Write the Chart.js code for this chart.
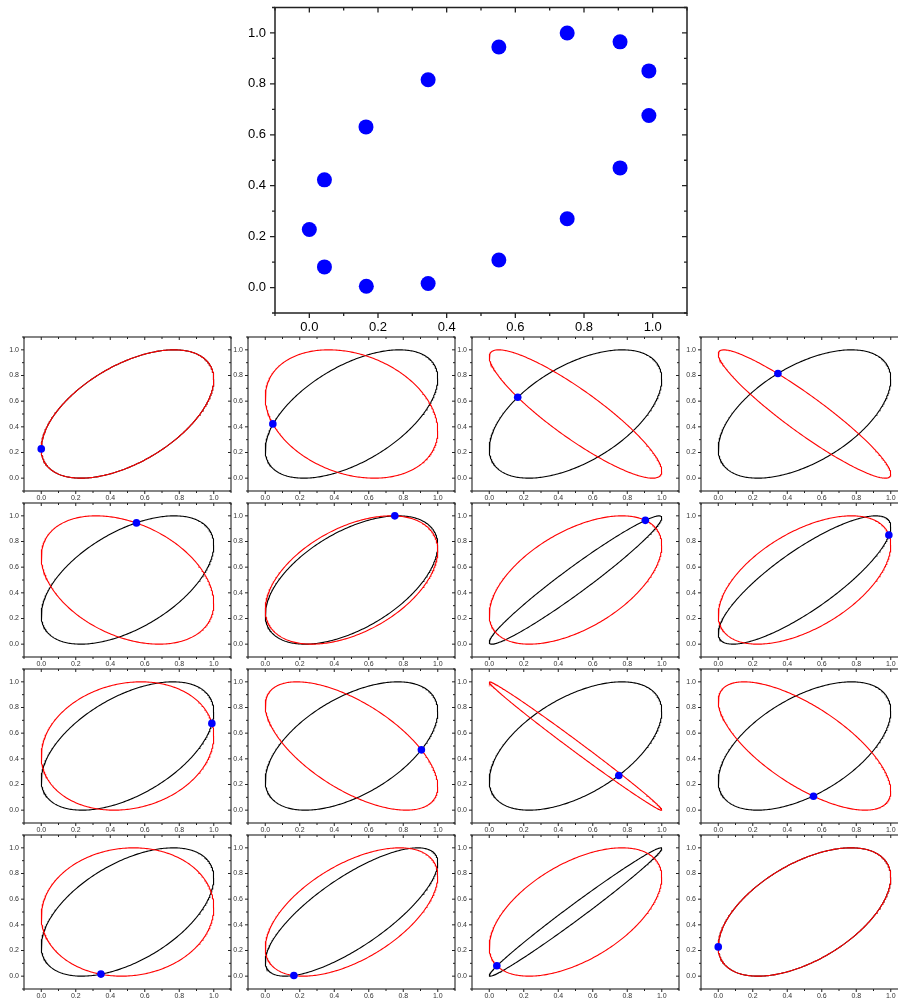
<!DOCTYPE html>
<html lang="en">
<head>
<meta charset="utf-8" />
<title>Phase ellipses</title>
<script src="https://cdn.jsdelivr.net/npm/chart.js@4.4.1/dist/chart.umd.min.js"></script>
<style>
  html, body { margin: 0; padding: 0; background: #fff; width: 898px; height: 998px; overflow: hidden; }
  .box { position: absolute; }
</style>
</head>
<body>
<div id="wrap"></div>
<script>
  // sample points, in sampling order
  const ptX = [0.000, 0.044, 0.165, 0.346, 0.552, 0.751, 0.905, 0.989, 0.989, 0.905, 0.751, 0.552, 0.346, 0.166, 0.044];
  const ptY = [0.228, 0.423, 0.631, 0.816, 0.945, 1.000, 0.965, 0.851, 0.676, 0.470, 0.270, 0.108, 0.016, 0.005, 0.081];

  // highlighted (blue) point in each small panel, row by row
  const panelPoint = [0, 1, 2, 3, 4, 5, 6, 7, 8, 9, 10, 11, 12, 13, 14, 0];

  // phase between x and y of the black and red ellipse in each panel (degrees)
  const blackPhase = [57.3, 56.3, 57.1, 57.1, 57.1, 57.3, 14.3, 34.1, 58.1, 57.5, 57.4, 57.0, 57.9, 39.8, 8.5, 57.3];
  const redPhase   = [57.3, 105.3, 153.0, 159.1, 111.4, 62.6, 57.5, 57.0, 81.0, 129.3, 174.3, 134.5, 86.0, 56.0, 57.3, 57.3];

  const tickLabels = ['0.0', '0.2', '0.4', '0.6', '0.8', '1.0'];

  // x = cos t, y = cos(t - phase), both mapped onto 0..1
  function ellipse(phaseDeg) {
    const p = phaseDeg * Math.PI / 180;
    const pts = [];
    for (let i = 0; i <= 360; i++) {
      const t = i * Math.PI / 180;
      pts.push({ x: 0.5 + 0.5 * Math.cos(t), y: 0.5 + 0.5 * Math.cos(t - p) });
    }
    return pts;
  }

  // box round the plot with minor/major ticks, out on bottom/left, in on top/right
  const frame = {
    id: 'frame',
    afterDraw(chart, args, o) {
      const { ctx, chartArea: a, scales: { x, y } } = chart;
      ctx.save();
      ctx.strokeStyle = '#222';
      ctx.lineWidth = o.lw;
      ctx.strokeRect(a.left, a.top, a.right - a.left, a.bottom - a.top);
      ctx.lineWidth = o.tw;
      ctx.beginPath();
      for (let k = -1; k <= 11; k++) {
        const len = k % 2 === 0 ? o.major : o.minor;
        const px = x.getPixelForValue(k / 10), py = y.getPixelForValue(k / 10);
        ctx.moveTo(px, a.bottom); ctx.lineTo(px, a.bottom + len);
        ctx.moveTo(px, a.top); ctx.lineTo(px, a.top + len);
        ctx.moveTo(a.left, py); ctx.lineTo(a.left - len, py);
        ctx.moveTo(a.right, py); ctx.lineTo(a.right - len, py);
      }
      ctx.stroke();
      ctx.restore();
    }
  };

  function axis(isX, size, font, pad, color) {
    return {
      type: 'linear', min: -0.1, max: 1.1,
      grid: { display: false, drawTicks: false },
      border: { display: false },
      ticks: {
        padding: pad, color: color, maxRotation: 0, autoSkip: false,
        font: { family: 'Liberation Sans, Arial, sans-serif', size: font },
        callback: (v, i) => tickLabels[i]
      },
      afterBuildTicks: s => { s.ticks = tickLabels.map(l => ({ value: parseFloat(l) })); },
      afterFit: s => {
        // fixed axis size and no label overhang, so the plot box sits exactly where placed
        if (isX) s.height = size; else s.width = size;
        s.paddingTop = s.paddingBottom = s.paddingLeft = s.paddingRight = 0;
      }
    };
  }

  function makeChart(left, top, w, h, pad, axes, datasets, frameOpts) {
    const div = document.createElement('div');
    div.className = 'box';
    div.style.cssText = 'left:' + left + 'px;top:' + top + 'px;width:' + w + 'px;height:' + h + 'px;';
    const cv = document.createElement('canvas');
    div.appendChild(cv);
    document.getElementById('wrap').appendChild(div);
    new Chart(cv, {
      type: 'scatter',
      data: { datasets: datasets },
      options: {
        responsive: true, maintainAspectRatio: false, animation: false, events: [],
        layout: { padding: pad },
        plugins: { legend: { display: false }, tooltip: { enabled: false }, frame: frameOpts },
        scales: { x: axes[0], y: axes[1] }
      },
      plugins: [frame]
    });
  }

  // big scatter plot
  makeChart(225, 0, 470, 345, { top: 7, right: 8, left: 0, bottom: 0 },
    [axis(true, 32, 13, 7, '#000'), axis(false, 50, 13, 9, '#000')],
    [{
      data: ptX.map((v, i) => ({ x: v, y: ptY[i] })),
      pointRadius: 7.5, pointBackgroundColor: '#0000ff', pointBorderWidth: 0, showLine: false
    }],
    { lw: 1.5, tw: 1.3, major: 5, minor: 3 });

  // 4 x 4 small panels
  const colLeft = [24, 248, 472, 701];
  const rowTop = [337, 503, 669, 835];
  for (let n = 0; n < 16; n++) {
    const c = n % 4, r = Math.floor(n / 4);
    const k = panelPoint[n];
    makeChart(colLeft[c] - 24, rowTop[r] - 4, 235, 172, { top: 4, right: 4, left: 0, bottom: 0 },
      [axis(true, 14, 7, 3, '#333'), axis(false, 24, 7, 5, '#333')],
      [
        { data: [{ x: ptX[k], y: ptY[k] }], pointRadius: 3.8, pointBackgroundColor: '#0000ff',
          pointBorderWidth: 0, showLine: false, order: 0 },
        { data: ellipse(redPhase[n]), showLine: true, borderColor: '#ff0000', borderWidth: 1.1,
          pointRadius: 0, order: 1 },
        { data: ellipse(blackPhase[n]), showLine: true, borderColor: '#000000', borderWidth: 1.1,
          pointRadius: 0, order: 2 }
      ],
      { lw: 1.1, tw: 1, major: 3, minor: 2 });
  }
</script>
</body>
</html>
